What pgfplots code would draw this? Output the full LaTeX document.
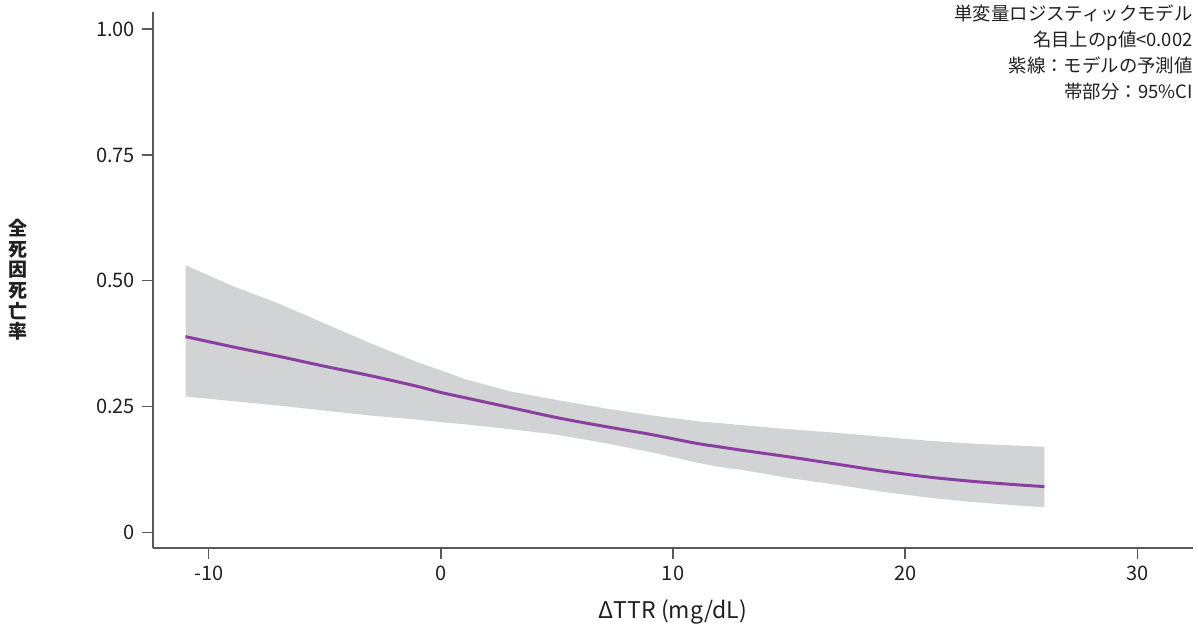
\documentclass[border=0pt]{standalone}
\usepackage{fontspec}
\setmainfont{Noto Sans CJK JP}
\usepackage{pgfplots}
\pgfplotsset{compat=1.18}
\usepgfplotslibrary{fillbetween}

\definecolor{bandgray}{HTML}{D1D3D4}
\definecolor{predline}{HTML}{8A3FA0}
\definecolor{axisgray}{HTML}{58595B}
\definecolor{txt}{HTML}{231F20}

% model prediction and 95% CI
\pgfplotstableread{
x     fit    lo     up
-11   0.389  0.270  0.531
-9    0.369  0.261  0.490
-7    0.350  0.252  0.455
-5    0.330  0.242  0.415
-3    0.311  0.232  0.375
-1    0.290  0.224  0.338
0     0.278  0.219  0.322
1     0.268  0.215  0.305
3     0.248  0.205  0.280
5     0.228  0.194  0.263
7     0.211  0.178  0.247
9     0.195  0.160  0.233
11    0.177  0.139  0.221
12    0.170  0.130  0.217
13    0.163  0.124  0.213
15    0.150  0.108  0.205
17    0.136  0.095  0.198
19    0.122  0.081  0.190
21    0.110  0.069  0.182
23    0.101  0.060  0.176
25    0.094  0.053  0.172
26    0.091  0.050  0.170
}\model

\begin{document}
\begin{tikzpicture}
\begin{axis}[
  at={(0,0)}, anchor=south west,
  scale only axis, width=520pt, height=268pt,
  xmin=-12.4, xmax=32.4, ymin=-0.031, ymax=1.034,
  axis x line*=bottom, axis y line*=left,
  axis line style={axisgray, line width=0.75pt},
  tick align=outside, major tick length=5.5pt,
  tick style={axisgray, line width=0.75pt},
  xtick={-10,0,10,20,30}, xticklabels={-10,0,10,20,30},
  ytick={0,0.25,0.5,0.75,1}, yticklabels={0,0.25,0.50,0.75,1.00},
  tick label style={font=\fontsize{10}{12}\selectfont, text=txt},
  xlabel={ΔTTR (mg/dL)},
  xlabel style={at={(axis description cs:0.5,0)}, anchor=center, yshift=-32pt,
    font=\fontsize{11.5}{13}\selectfont, text=txt},
  clip=false,
]
\addplot[name path=up, draw=none] table[x=x, y=up] {\model};
\addplot[name path=lo, draw=none] table[x=x, y=lo] {\model};
\addplot[fill=bandgray, draw=none] fill between[of=up and lo];
\addplot[predline, line width=1.5pt, smooth] table[x=x, y=fit] {\model};

\node[anchor=north east, align=right, inner sep=0pt, text=txt,
  font=\fontsize{9.2}{13}\selectfont] at (rel axis cs:1,1) [yshift=4pt]
  {単変量ロジスティックモデル\\名目上のp値<0.002\\紫線：モデルの予測値\\帯部分：95\%CI};
\node[align=center, inner sep=0pt, text=txt, font=\fontsize{9.5}{10.3}\selectfont\bfseries]
  at (rel axis cs:0,0.5) [xshift=-67.5pt] {全\\死\\因\\死\\亡\\率};
\end{axis}
\path[use as bounding box] (-76.5pt,-43.2pt) rectangle (522.5pt,274pt);
\end{tikzpicture}
\end{document}
